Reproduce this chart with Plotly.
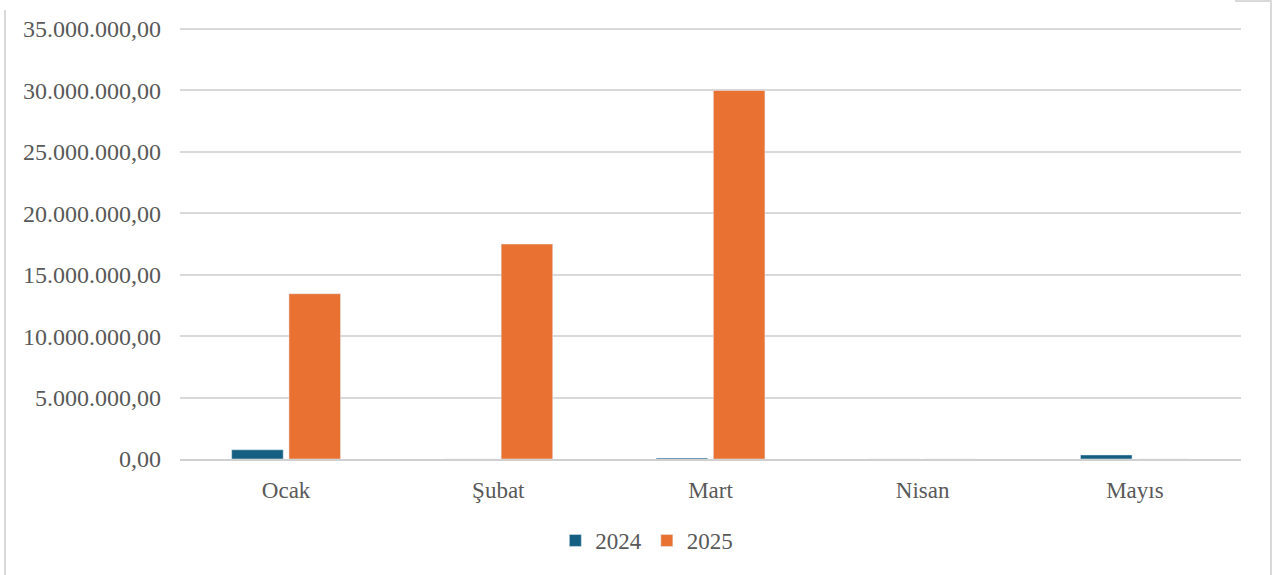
import plotly.graph_objects as go

months = ["Ocak", "Şubat", "Mart", "Nisan", "Mayıs"]
values_2024 = [750000, 0, 80000, 0, 330000]
values_2025 = [13450000, 17500000, 30000000, 0, 0]

text_color = "#595959"
grid_color = "#D9D9D9"

fig = go.Figure()
fig.add_trace(go.Bar(x=months, y=values_2024, name="2024", marker=dict(color="#156082")))
fig.add_trace(go.Bar(x=months, y=values_2025, name="2025", marker=dict(color="#E97132")))

H = 433  # plot height in px
fig.update_layout(
    width=1277, height=575,
    margin=dict(l=180, r=36, t=575 - 116 - H, b=116, autoexpand=False),
    paper_bgcolor="white", plot_bgcolor="white",
    font=dict(family="Liberation Serif, Times New Roman, serif", size=23, color=text_color),
    separators=",.",
    barmode="group", bargap=0.46, bargroupgap=0.1,
    showlegend=True,
    legend=dict(orientation="h", x=0.44, xanchor="center", y=-60 / H, yanchor="top",
                font=dict(size=23, color=text_color), itemwidth=30, traceorder="normal"),
)
# some headroom so the 35M gridline is drawn
fig.update_yaxes(range=[0, 35250000], tickvals=[0, 5e6, 10e6, 15e6, 20e6, 25e6, 30e6, 35e6],
                 tickformat=",.2f", tickfont=dict(size=24),
                 showgrid=True, gridcolor=grid_color, gridwidth=1.5,
                 zeroline=False, showline=False, ticklabelstandoff=18)
fig.update_xaxes(showline=True, linecolor="#D0D0D0", linewidth=2,
                 showgrid=False, ticks="", ticklabelstandoff=9)

# partial chart frame visible at the edges
border = dict(color="#D9D9D9", width=2)
fig.add_shape(type="line", xref="paper", yref="paper", x0=-175/1061, x1=-175/1061,
              y0=-116/H, y1=449/H, line=border)
fig.add_shape(type="line", xref="paper", yref="paper", x0=1091/1061, x1=1091/1061,
              y0=-116/H, y1=459/H, line=border)
fig.add_shape(type="line", xref="paper", yref="paper", x0=1055/1061, x1=1091/1061,
              y0=458/H, y1=458/H, line=border)

fig.write_html("out.html", config={"displayModeBar": False},
               post_script="document.body.style.margin='0';")
